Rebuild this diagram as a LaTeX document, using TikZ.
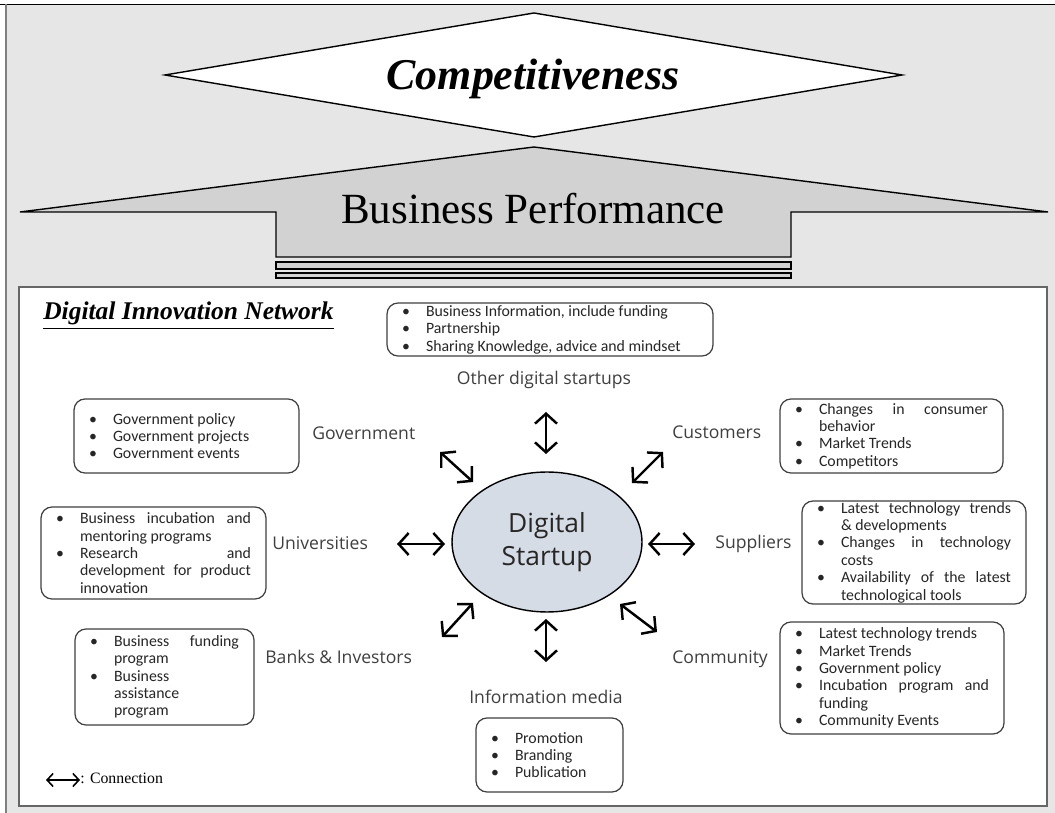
\documentclass[tikz,border=0pt]{standalone}
\usepackage{fontspec}
\usepackage{xcolor}
\usepackage{tikz}
\usetikzlibrary{shapes.geometric,arrows.meta}
\setmainfont{Carlito}
\newfontfamily\labelfont{Open Sans}
\newfontfamily\titlefont{Liberation Serif}
\definecolor{bggrey}{HTML}{E6E6E6}
\definecolor{arrowgrey}{HTML}{D2D2D2}
\definecolor{startupblue}{HTML}{D6DCE5}
\definecolor{labelgrey}{HTML}{3F3F3F}
\hyphenpenalty=10000
\exhyphenpenalty=10000
\newlength\bind
\setlength\bind{0.48cm}
\newcommand\itm[1]{\hangindent=\bind\hangafter=1\noindent\makebox[\bind][l]{\textbullet}#1\par}

\begin{document}
\begin{tikzpicture}[x=0.02cm,y=-0.02cm,
  listbox/.style={draw=black!75,line width=0.7pt,rounded corners=0.22cm,align=justify,inner xsep=0.3cm,inner ysep=0pt,font=\fontsize{9}{9.9}\selectfont,text=black!85},
  lbl/.style={anchor=base west,inner sep=0pt,font=\labelfont\fontsize{10}{12}\selectfont,text=labelgrey},
  conn/.style={line width=1.4pt,<->,>={Straight Barb[length=2mm,width=4.4mm]}},
  legconn/.style={line width=0.9pt,<->,>={Straight Barb[length=1.2mm,width=2.6mm]}}]
\def\diamondpath{(165,75) -- (534,13) -- (902,75) -- (534,137) -- cycle}
\def\arrowpath{(20,212) -- (534,147) -- (1048,212) -- (791,212) -- (791,257) -- (276,257) -- (276,212) -- cycle}
\useasboundingbox (0,0) rectangle (1055,813);
      \fill[bggrey] (6,4.5) rectangle (1055,813);
      \draw[black,line width=0.8pt] (0,4.5) -- (1055,4.5);
      \draw[gray,line width=0.8pt] (6,4.5) -- (6,813);
      \draw[fill=white,line width=0.8pt] \diamondpath;
      \node (comp) [anchor=base] at (533,90) {\titlefont\bfseries\itshape\fontsize{25}{30}\selectfont Competitiveness};
      \draw[fill=arrowgrey,line width=0.8pt] \arrowpath;
      \node (perf) [anchor=base] at (533,224) {\titlefont\fontsize{24.5}{28}\selectfont Business Performance};
      \draw[fill=arrowgrey,line width=0.6pt] (276,262) rectangle (791,269);
      \draw[fill=arrowgrey,line width=0.6pt] (276,273) rectangle (791,278);
      \draw[fill=white,draw=gray!80!black,line width=1.1pt] (19,287) rectangle (1047,806);
      \node (dinTitle) [anchor=base west,inner sep=0pt] at (43,320) {\titlefont\bfseries\itshape\fontsize{14.5}{17}\selectfont\underline{Digital Innovation Network}};
      \node (ds) [ellipse,draw,line width=0.8pt,fill=startupblue,minimum width=3.8cm,minimum height=2.8cm,align=center,font=\labelfont\fontsize{15}{18.7}\selectfont,text=black!85] at (547,542) {Digital\\Startup};
      \node (othB) [listbox,text width=5.92cm,minimum height=1.06cm] at (550,329.5) {\itm{Business Information, include funding}\itm{Partnership}\itm{Sharing Knowledge, advice and mindset}};
      \node (govB) [listbox,text width=3.9cm,minimum height=1.48cm] at (186.5,436) {\itm{Government policy}\itm{Government projects}\itm{Government events}};
      \node (uniB) [listbox,text width=3.9cm,minimum height=1.84cm] at (153.5,553) {\itm{Business incubation and\linebreak mentoring programs}\itm{Research and\linebreak development for product\linebreak innovation}};
      \node (bankB) [listbox,text width=2.98cm,minimum height=1.92cm] at (164.5,677) {\itm{Business funding\linebreak program}\itm{Business\newline assistance\newline program}};
      \node (mediaB) [listbox,text width=2.34cm,minimum height=1.48cm] at (549.5,755) {\itm{Promotion}\itm{Branding}\itm{Publication}};
      \node (custB) [listbox,text width=3.86cm,minimum height=1.48cm] at (891.5,436) {\itm{Changes in consumer\linebreak behavior}\itm{Market Trends}\itm{Competitors}};
      \node (suppB) [listbox,text width=3.88cm,minimum height=2.06cm] at (914,552.5) {\itm{Latest technology trends\linebreak \& developments}\itm{Changes in technology\linebreak costs}\itm{Availability of the latest\linebreak technological tools}};
      \node (commB) [listbox,text width=3.88cm,minimum height=2.24cm] at (892,678) {\itm{Latest technology trends}\itm{Market Trends}\itm{Government policy}\itm{Incubation program and\linebreak funding}\itm{Community Events}};
      \node (othL) [lbl,anchor=base] at (544,385) {Other digital startups};
      \node (govL) [lbl] at (312,440) {Government};
      \node (uniL) [lbl] at (272,550) {Universities};
      \node (bankL) [lbl] at (265,664) {Banks \& Investors};
      \node (mediaL) [lbl,anchor=base] at (546,704) {Information media};
      \node (custL) [lbl] at (672,439) {Customers};
      \node (suppL) [lbl] at (715,549) {Suppliers};
      \node (commL) [lbl] at (672,664) {Community};
      \coordinate (oth1) at (546,412);
      \coordinate (oth2) at (546,454);
      \coordinate (gov1) at (440,452);
      \coordinate (gov2) at (473,482);
      \coordinate (cust1) at (632,483);
      \coordinate (cust2) at (663,452);
      \coordinate (uni1) at (397,544);
      \coordinate (uni2) at (445,544);
      \coordinate (supp1) at (648,544);
      \coordinate (supp2) at (695,544);
      \coordinate (bank1) at (442,637);
      \coordinate (bank2) at (473,603);
      \coordinate (media1) at (546,619);
      \coordinate (media2) at (546,662);
      \coordinate (comm1) at (620,604);
      \coordinate (comm2) at (657,632);
      \draw[conn] (oth1) -- (oth2);
      \draw[conn] (gov1) -- (gov2);
      \draw[conn] (cust1) -- (cust2);
      \draw[conn] (uni1) -- (uni2);
      \draw[conn] (supp1) -- (supp2);
      \draw[conn] (bank1) -- (bank2);
      \draw[conn] (media1) -- (media2);
      \draw[conn] (comm1) -- (comm2);
      \coordinate (leg1) at (46,780);
      \node (legT) [anchor=base west,inner sep=0pt] at (80,784) {\titlefont\fontsize{9}{11}\selectfont: Connection};
      \draw[legconn] (leg1) -- (legT.west |- leg1);
\end{tikzpicture}
\end{document}
